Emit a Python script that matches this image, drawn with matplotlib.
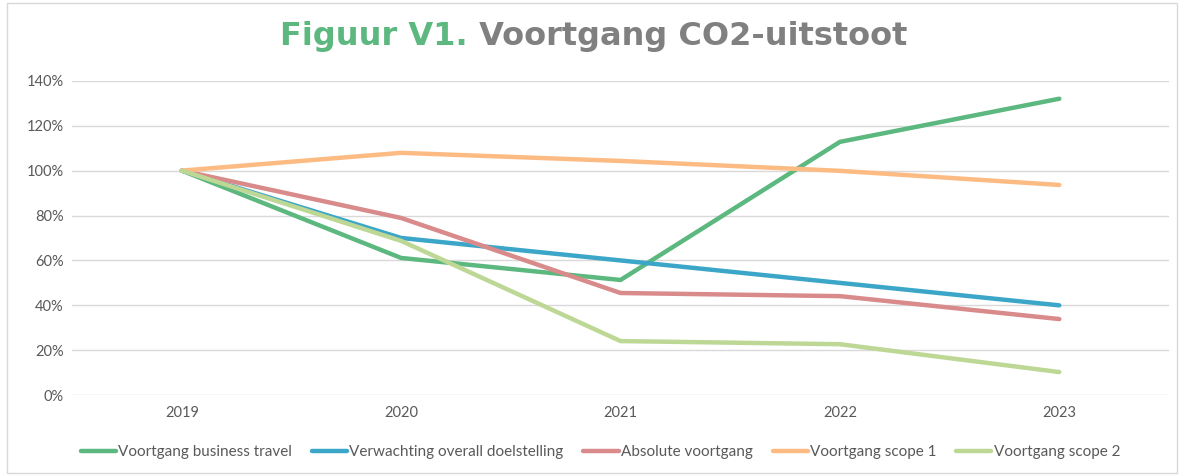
import matplotlib
matplotlib.use("Agg")
import matplotlib.pyplot as plt
from matplotlib.patches import Rectangle

years = ["2019", "2020", "2021", "2022", "2023"]
business_travel = [100, 61.1, 51.3, 112.8, 132.0]
verwachting = [100, 70, 60, 50, 40]
absolute = [100, 78.9, 45.5, 44.1, 33.9]
scope1 = [100, 107.9, 104.3, 99.9, 93.6]
scope2 = [100, 68.7, 24.1, 22.7, 10.3]

labels = ["Voortgang business travel", "Verwachting overall doelstelling",
          "Absolute voortgang", "Voortgang scope 1", "Voortgang scope 2"]
colors = ["#5cb87e", "#3ca6c9", "#d98a8a", "#fdbb84", "#bdd795"]

plt.rcParams["font.family"] = ["Lato", "DejaVu Sans"]

fig = plt.figure(figsize=(11.82, 4.75), dpi=100)
fig.patches.append(Rectangle((0.006, 0.004), 0.99, 0.99, transform=fig.transFigure,
                             fill=False, edgecolor="#d9d9d9", linewidth=1))
ax = fig.add_axes([0.061, 0.168, 0.928, 0.662])

x = range(len(years))
series = [business_travel, verwachting, absolute, scope1, scope2]
for vals, lab, col in zip(series, labels, colors):
    ax.plot(x, [v / 100 for v in vals], color=col, linewidth=3.2, label=lab,
            solid_capstyle="round")

ax.set_xlim(-0.5, 4.5)
ax.set_ylim(0, 1.4)
ax.set_xticks(list(x))
ax.set_xticklabels(years)
ax.set_yticks([i * 0.2 for i in range(8)])
ax.set_yticklabels([f"{i * 20}%" for i in range(8)])
ax.grid(axis="y", color="#d9d9d9", linewidth=1)
ax.set_axisbelow(True)
for s in ax.spines.values():
    s.set_visible(False)
ax.tick_params(length=0, colors="#595959", labelsize=10.5)
ax.tick_params(axis="x", pad=8)
ax.tick_params(axis="y", pad=6)

leg = fig.legend(loc="center", bbox_to_anchor=(0.508, 0.048), ncol=5, frameon=False,
                 fontsize=11, handlelength=2.3, handletextpad=0.15, columnspacing=1.3)
for t in leg.get_texts():
    t.set_color("#595959")

t1 = fig.text(0.237, 0.905, "Figuur V1.", color="#5cb87e", fontsize=23,
              fontweight="bold", family="DejaVu Sans", va="baseline")
ax.annotate(" Voortgang CO2-uitstoot", xy=(1, 0), xycoords=t1, color="#808080",
            fontsize=23, fontweight="bold", family="DejaVu Sans", va="bottom")

fig.savefig("out.png", dpi=100)
